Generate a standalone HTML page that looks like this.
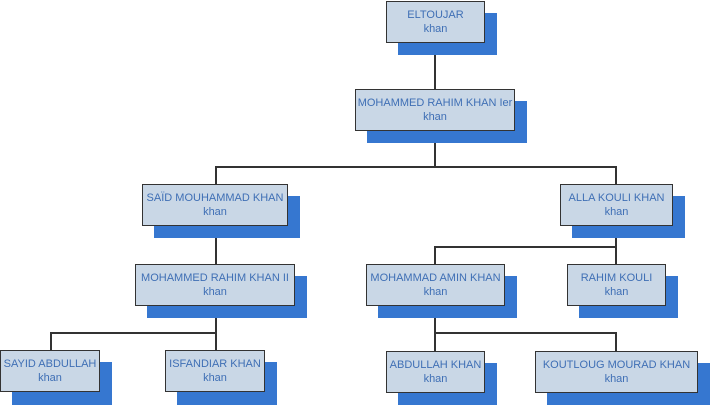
<!DOCTYPE html>
<html><head><style>
body{margin:0;width:710px;height:405px;background:#fff;position:relative;overflow:hidden;font-family:"Liberation Sans",sans-serif}
.s{position:absolute;background:#3677d0}
.b{position:absolute;background:#c9d7e6;border:1.5px solid #333;box-sizing:border-box;color:#3f6fb5;font-size:11px;text-align:center;line-height:14px;padding-top:6px;white-space:nowrap}
.l{position:absolute;background:#333}
</style></head><body>
<!-- connectors -->
<div class="l" style="left:434px;top:42px;width:1.5px;height:48px"></div>
<div class="l" style="left:434px;top:130px;width:1.5px;height:36px"></div>
<div class="l" style="left:215px;top:166px;width:401px;height:1.5px"></div>
<div class="l" style="left:215px;top:166px;width:1.5px;height:18px"></div>
<div class="l" style="left:615px;top:166px;width:1.5px;height:18px"></div>
<div class="l" style="left:215px;top:226px;width:1.5px;height:38px"></div>
<div class="l" style="left:615px;top:226px;width:1.5px;height:38px"></div>
<div class="l" style="left:434px;top:246px;width:182px;height:1.5px"></div>
<div class="l" style="left:434px;top:246px;width:1.5px;height:18px"></div>
<div class="l" style="left:215px;top:306px;width:1.5px;height:45px"></div>
<div class="l" style="left:50px;top:332px;width:166px;height:1.5px"></div>
<div class="l" style="left:50px;top:332px;width:1.5px;height:19px"></div>
<div class="l" style="left:434px;top:306px;width:1.5px;height:45px"></div>
<div class="l" style="left:434px;top:332px;width:182px;height:1.5px"></div>
<div class="l" style="left:615px;top:332px;width:1.5px;height:19px"></div>
<!-- shadows -->
<div class="s" style="left:398px;top:13px;width:99px;height:42px"></div>
<div class="s" style="left:367px;top:101px;width:160px;height:42px"></div>
<div class="s" style="left:154px;top:196px;width:146px;height:42px"></div>
<div class="s" style="left:572px;top:196px;width:113px;height:42px"></div>
<div class="s" style="left:147px;top:276px;width:160px;height:42px"></div>
<div class="s" style="left:378px;top:276px;width:139px;height:42px"></div>
<div class="s" style="left:579px;top:276px;width:99px;height:42px"></div>
<div class="s" style="left:12px;top:362px;width:100px;height:43px"></div>
<div class="s" style="left:177px;top:362px;width:100px;height:43px"></div>
<div class="s" style="left:398px;top:363px;width:99px;height:42px"></div>
<div class="s" style="left:547px;top:363px;width:163px;height:42px"></div>
<!-- boxes -->
<div class="b" style="left:386px;top:1px;width:99px;height:42px">ELTOUJAR<br>khan</div>
<div class="b" style="left:355px;top:89px;width:160px;height:42px">MOHAMMED RAHIM KHAN Ier<br>khan</div>
<div class="b" style="left:142px;top:184px;width:146px;height:42px">SAÏD MOUHAMMAD KHAN<br>khan</div>
<div class="b" style="left:560px;top:184px;width:113px;height:42px">ALLA KOULI KHAN<br>khan</div>
<div class="b" style="left:135px;top:264px;width:160px;height:42px">MOHAMMED RAHIM KHAN II<br>khan</div>
<div class="b" style="left:366px;top:264px;width:139px;height:42px">MOHAMMAD AMIN KHAN<br>khan</div>
<div class="b" style="left:567px;top:264px;width:99px;height:42px">RAHIM KOULI<br>khan</div>
<div class="b" style="left:0px;top:350px;width:100px;height:42px">SAYID ABDULLAH<br>khan</div>
<div class="b" style="left:165px;top:350px;width:100px;height:42px">ISFANDIAR KHAN<br>khan</div>
<div class="b" style="left:386px;top:351px;width:99px;height:42px">ABDULLAH KHAN<br>khan</div>
<div class="b" style="left:535px;top:351px;width:163px;height:42px">KOUTLOUG MOURAD KHAN<br>khan</div>
</body></html>
